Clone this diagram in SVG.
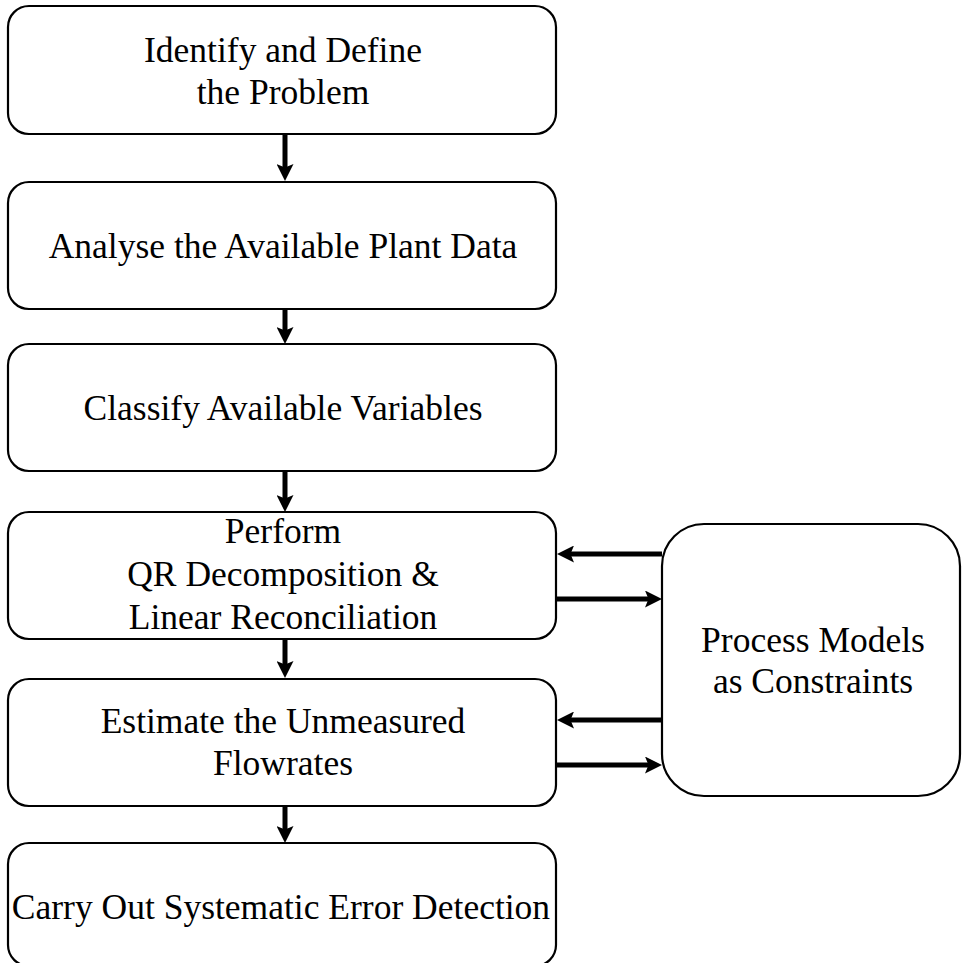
<svg xmlns="http://www.w3.org/2000/svg" width="962" height="963" viewBox="0 0 962 963">
  <style>
    .box { fill: #ffffff; stroke: #000000; stroke-width: 2.2; }
    .lbl { font-family: "Liberation Serif", "Times New Roman", serif; font-size: 35.5px; fill: #000000; text-anchor: middle; }
    .flow { stroke: #000000; stroke-width: 5; fill: none; marker-end: url(#head); }
  </style>
  <defs>
    <marker id="head" viewBox="0 0 17 17" refX="7" refY="8.5" markerWidth="17" markerHeight="17" markerUnits="userSpaceOnUse" orient="auto">
      <path d="M0,0 L17,8.5 L0,17 L3.5,8.5 Z" fill="#000000"/>
    </marker>
  </defs>

  <rect width="962" height="963" fill="#ffffff"/>

  <!-- main sequence of steps -->
  <g id="step-identify">
    <rect class="box" x="8" y="6" width="548" height="128" rx="21" ry="21"/>
    <text class="lbl" x="283" y="62">Identify and Define</text>
    <text class="lbl" x="283" y="104">the Problem</text>
  </g>

  <g id="step-analyse">
    <rect class="box" x="8" y="182" width="548" height="127" rx="21" ry="21"/>
    <text class="lbl" x="283" y="258">Analyse the Available Plant Data</text>
  </g>

  <g id="step-classify">
    <rect class="box" x="8" y="344" width="548" height="127" rx="21" ry="21"/>
    <text class="lbl" x="283" y="420">Classify Available Variables</text>
  </g>

  <g id="step-reconcile">
    <rect class="box" x="8" y="512" width="548" height="127" rx="21" ry="21"/>
    <text class="lbl" x="283" y="543">Perform</text>
    <text class="lbl" x="283" y="586">QR Decomposition &amp;</text>
    <text class="lbl" x="283" y="629">Linear Reconciliation</text>
  </g>

  <g id="step-estimate">
    <rect class="box" x="8" y="679" width="548" height="127" rx="21" ry="21"/>
    <text class="lbl" x="283" y="733">Estimate the Unmeasured</text>
    <text class="lbl" x="283" y="775">Flowrates</text>
  </g>

  <g id="step-detect">
    <rect class="box" x="8" y="843" width="548" height="123" rx="21" ry="21"/>
    <text class="lbl" x="281" y="919">Carry Out Systematic Error Detection</text>
  </g>

  <!-- side block feeding the constraint equations -->
  <g id="process-models">
    <rect class="box" x="662" y="524" width="298" height="272" rx="42" ry="42"/>
    <text class="lbl" x="813" y="652">Process Models</text>
    <text class="lbl" x="813" y="693">as Constraints</text>
  </g>

  <!-- connectors -->
  <g id="connectors">
    <line class="flow" x1="285" y1="134" x2="285" y2="171"/>
    <line class="flow" x1="285" y1="309" x2="285" y2="334"/>
    <line class="flow" x1="285" y1="471" x2="285" y2="502"/>
    <line class="flow" x1="285" y1="639" x2="285" y2="668"/>
    <line class="flow" x1="285" y1="806" x2="285" y2="833"/>

    <line class="flow" x1="662" y1="554" x2="567" y2="554"/>
    <line class="flow" x1="556" y1="599" x2="652" y2="599"/>
    <line class="flow" x1="662" y1="720" x2="567" y2="720"/>
    <line class="flow" x1="556" y1="765" x2="652" y2="765"/>
  </g>
</svg>
